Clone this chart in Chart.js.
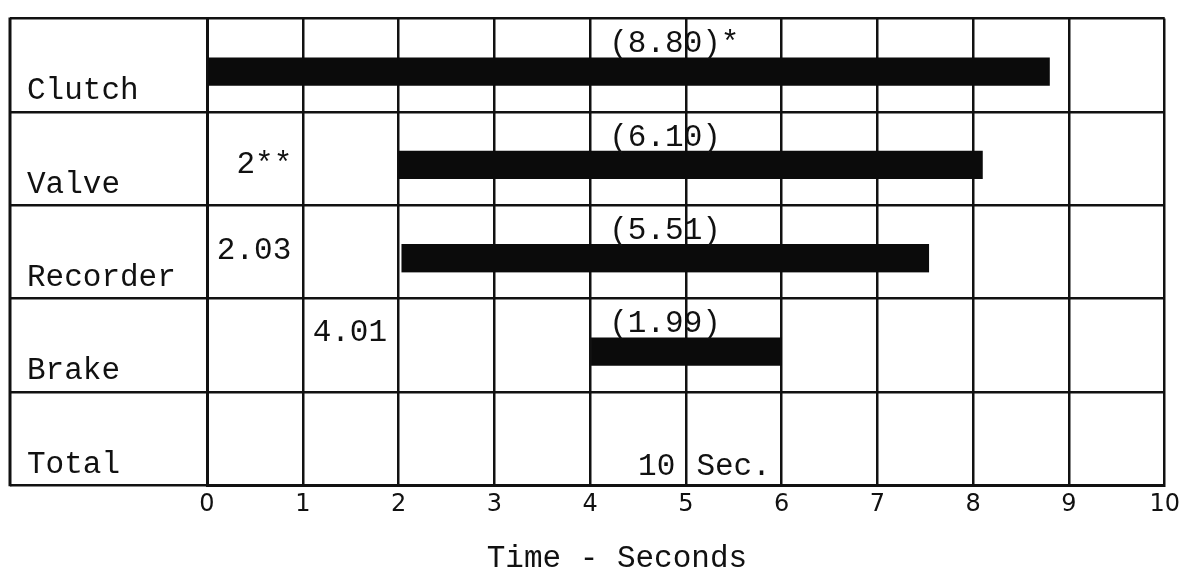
<!DOCTYPE html>
<html>
<head>
<meta charset="utf-8">
<script src="https://cdn.jsdelivr.net/npm/chart.js@4/dist/chart.umd.min.js"></script>
<style>
html,body{margin:0;padding:0;background:#ffffff;}
#wrap{width:1180px;height:571px;position:relative;}
</style>
</head>
<body>
<div id="wrap"><canvas id="c"></canvas></div>
<script>
// ---- data ----
const categories = ['Clutch', 'Valve', 'Recorder', 'Brake', 'Total'];
const startTimes = [0, 2, 2.03, 4.01];
const durations = [8.80, 6.10, 5.51, 1.99];
const durationLabels = ['(8.80)*', '(6.10)', '(5.51)', '(1.99)'];
const startLabels = ['', '2**', '2.03', '4.01'];
const totalTime = 10;
const totalUnit = 'Sec.';
const xTicks = [0, 1, 2, 3, 4, 5, 6, 7, 8, 9, 10];
const axisTitle = 'Time - Seconds';

// ---- styling ----
const INK = '#111111';
const BAR = '#0b0b0b';
const MONO = '"Liberation Mono", "DejaVu Sans Mono", monospace';
const LABEL_COL = 197;

const bars = categories.map((c, i) =>
  i < durations.length ? [startTimes[i], +(startTimes[i] + durations[i]).toFixed(2)] : null);

const annotations = {
  id: 'annotations',
  afterDraw(chart, args, opts) {
    const { ctx, chartArea, scales: { x, y } } = chart;
    ctx.save();
    // outer left border of the label column
    ctx.strokeStyle = INK;
    ctx.lineWidth = 3;
    ctx.beginPath();
    const lx = chartArea.left - LABEL_COL;
    ctx.moveTo(lx, chartArea.top - 1);
    ctx.lineTo(lx, chartArea.bottom + 1);
    ctx.stroke();

    ctx.fillStyle = INK;
    ctx.font = '31px ' + MONO;
    ctx.textBaseline = 'middle';
    // durations above the bars
    ctx.textAlign = 'left';
    durationLabels.forEach((t, i) => {
      ctx.fillText(t, x.getPixelForValue(opts.durationAt), y.getPixelForValue(i) + opts.durationDy);
    });
    // start times
    ctx.textAlign = 'right';
    startLabels.forEach((t, i) => {
      if (!t) return;
      ctx.fillText(t, x.getPixelForValue(opts.startAt[i]), y.getPixelForValue(i) + opts.startDy[i]);
    });
    // total
    const ti = categories.length - 1;
    ctx.fillText(String(totalTime), x.getPixelForValue(opts.totalAt[0]), y.getPixelForValue(ti) + opts.totalDy);
    ctx.textAlign = 'left';
    ctx.fillText(totalUnit, x.getPixelForValue(opts.totalAt[1]), y.getPixelForValue(ti) + opts.totalDy);
    // axis title
    ctx.textAlign = 'center';
    ctx.fillText(axisTitle, x.getPixelForValue(opts.titleAt), opts.titleY);
    ctx.restore();
  }
};

new Chart(document.getElementById('c'), {
  type: 'bar',
  data: {
    labels: categories,
    datasets: [{
      data: bars,
      backgroundColor: BAR,
      borderColor: 'rgba(0,0,0,0)',
      borderWidth: { top: 13, right: 0, bottom: 0, left: 0 },
      borderSkipped: false,
      barThickness: 41
    }]
  },
  options: {
    indexAxis: 'y',
    responsive: true,
    maintainAspectRatio: false,
    animation: false,
    layout: { padding: { left: 27, top: 13, right: 12, bottom: 52 } },
    plugins: {
      legend: { display: false },
      tooltip: { enabled: false },
      annotations: {
        durationAt: 4.2,
        durationDy: -21,
        startAt: [null, 0.89, 0.88, 1.88],
        startDy: [0, 6, -1, -12],
        totalAt: [4.89, 5.11],
        totalDy: 28,
        titleAt: 4.28,
        titleY: 559
      }
    },
    scales: {
      x: {
        type: 'linear',
        min: 0,
        max: 10,
        grid: { color: INK, lineWidth: 2.5, drawTicks: true, tickLength: 5, tickColor: 'rgba(0,0,0,0)' },
        border: { display: true, color: INK, width: 3 },
        ticks: { padding: 0, color: INK, font: { family: '"DejaVu Sans"', size: 24 } },
        afterBuildTicks: s => { s.ticks = xTicks.map(v => ({ value: v })); }
      },
      y: {
        type: 'category',
        offset: true,
        grid: { offset: true, color: INK, lineWidth: 2.5, drawTicks: true, tickLength: LABEL_COL, tickColor: INK, tickWidth: 2.5 },
        border: { display: true, color: INK, width: 3 },
        ticks: { crossAlign: 'far', padding: 0, labelOffset: 26, color: INK, font: { family: MONO, size: 31 } },
        afterFit: s => { s.width = 180; }
      }
    }
  },
  plugins: [annotations]
});
</script>
</body>
</html>
